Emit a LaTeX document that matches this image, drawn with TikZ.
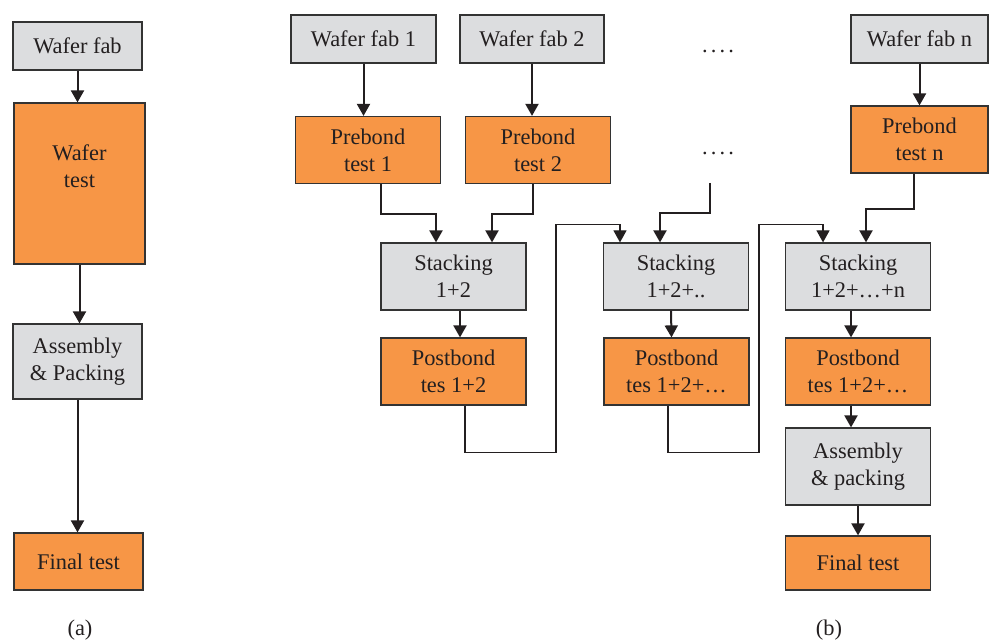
\documentclass[tikz,border=0pt]{standalone}
\usepackage{fontspec}
\setmainfont{Liberation Serif}
\newfontfamily\boxfont{Liberation Serif}
\usepackage{xcolor}
\usepackage{tikz}
\usetikzlibrary{calc,arrows.meta}
\definecolor{boxgray}{HTML}{DCDDDF}
\definecolor{boxorange}{HTML}{F79646}
\definecolor{edgegray}{HTML}{333333}
\definecolor{inkblack}{HTML}{231F20}

\begin{document}
\begin{tikzpicture}[x=0.5pt,y=-0.5pt]
\tikzstyle{every node}+=[inner sep=0pt, align=center, text=inkblack, font=\boxfont\fontsize{11.2}{13.5}\selectfont]
\tikzstyle{graybox}=[draw=edgegray, line width=0.6pt, fill=boxgray, minimum width=72.5pt, minimum height=33.5pt]
\tikzstyle{orangebox}=[graybox, fill=boxorange]
\tikzstyle{flow}=[draw=inkblack, line width=1pt, -{Triangle[width=6.5pt,length=6pt]}]
\tikzstyle{loopback}=[flow, line width=0.6pt]
\useasboundingbox (0,0) rectangle (989,641);
% (a) conventional flow
\node[graybox, minimum width=64.5pt, minimum height=24pt] (wf) at (77.5,46) {Wafer fab};
\node[orangebox, minimum width=65.5pt, minimum height=80.5pt, text depth=17pt] (wt) at (79.5,183.5) {Wafer\\test};
\node[graybox, minimum width=64.5pt, minimum height=37.5pt] (asm) at (77.5,361.5) {Assembly\\\& Packing};
\node[orangebox, minimum width=64.5pt, minimum height=28.5pt] (ft) at (78.5,561.5) {Final test};
\node (capa) at (80,630) {(a)};
\draw[flow] (wf.south) -- (wf.south |- wt.north);
\draw[flow] (wt.south) -- (wt.south |- asm.north);
\draw[flow] (asm.south) -- (asm.south |- ft.north);
% (b) 3D stacked flow
\node[graybox, minimum height=24pt] (wf1) at (363.5,39) {Wafer fab 1};
\node[graybox, minimum width=72pt, minimum height=24pt] (wf2) at (532,39) {Wafer fab 2};
\node[graybox, minimum width=68.5pt, minimum height=24pt] (wfn) at (919.5,39) {Wafer fab n};
\node[anchor=base] (dotsa) at (718,53) {.\hspace{1.6pt}.\hspace{1.6pt}.\hspace{1.6pt}.};
\node[anchor=base] (dotsb) at (718,155) {.\hspace{1.6pt}.\hspace{1.6pt}.\hspace{1.6pt}.};
\coordinate (dotsend) at (710,183);
\node[orangebox] (pt1) at (368,150) {Prebond\\test 1};
\node[orangebox] (pt2) at (538,150) {Prebond\\test 2};
\node[orangebox, minimum width=68.5pt] (ptn) at (919.5,139.5) {Prebond\\test n};
\node[graybox] (st1) at (453.5,276.5) {Stacking\\1+2};
\node[graybox] (st2) at (676,276.5) {Stacking\\1+2+..};
\node[graybox] (stn) at (858,276.5) {Stacking\\1+2+…+n};
\node[orangebox] (pb1) at (453.5,371.5) {Postbond\\tes 1+2};
\node[orangebox] (pb2) at (676.5,371.5) {Postbond\\tes 1+2+…};
\node[orangebox] (pbn) at (858,371.5) {Postbond\\tes 1+2+…};
\node[graybox, minimum height=38.5pt] (asmb) at (858,466.5) {Assembly\\\& packing};
\node[orangebox, minimum height=27pt] (ftb) at (858,563) {Final test};
\node (capb) at (829,630) {(b)};
\draw[flow] (wf1.south) -- (wf1.south |- pt1.north);
\draw[flow] (wf2.south) -- (wf2.south |- pt2.north);
\draw[flow] (wfn.south) -- (wfn.south |- ptn.north);
\draw[flow] ($(pt1.south)+(13,0)$) -- ++(0,30) -| ($(st1.north)+(-17.5,0)$);
\draw[flow] ($(pt2.south)+(-5,0)$) -- ++(0,30) -| ($(st1.north)+(38.5,0)$);
\draw[flow] (dotsend) -- ++(0,30) -| ($(st2.north)+(-16,0)$);
\draw[flow] ($(ptn.south)+(-5.5,0)$) -- ++(0,35) -| ($(stn.north)+(8,0)$);
\draw[flow] ($(st1.south)+(6.5,0)$) -- ($(pb1.north)+(6.5,0)$);
\draw[flow] ($(st2.south)+(-5,0)$) -- ($(pb2.north)+(-5,0)$);
\draw[flow] ($(stn.south)+(-7,0)$) -- ($(pbn.north)+(-7,0)$);
\draw[flow] ($(pbn.south)+(-7,0)$) -- ($(asmb.north)+(-7,0)$);
\draw[flow] (asmb.south) -- (ftb.north);
\draw[loopback] ($(pb1.south)+(11.5,0)$) -- ++(0,47) -| ++(91,-228) -| ($(st2.north)+(-56,0)$);
\draw[loopback] ($(pb2.south)+(-8.5,0)$) -- ++(0,47) -| ++(91,-228) -| ($(stn.north)+(-35,0)$);
\end{tikzpicture}
\end{document}
